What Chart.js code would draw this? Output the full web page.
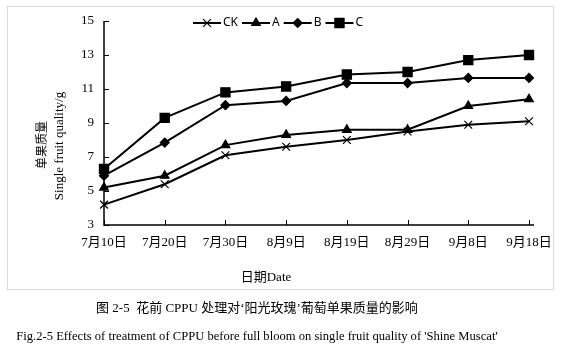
<!DOCTYPE html>
<html>
<head>
<meta charset="utf-8">
<script src="https://cdn.jsdelivr.net/npm/chart.js@4/dist/chart.umd.min.js"></script>
<style>
html,body{margin:0;padding:0;background:#fff;}
#wrap{position:relative;width:567px;height:356px;overflow:hidden;}
#c{position:absolute;left:0;top:0;}
.cap{position:absolute;left:0;width:514px;text-align:center;color:#000;white-space:nowrap;
 font-family:"Liberation Serif","Noto Sans CJK SC",serif;font-size:13px;line-height:16px;}
</style>
</head>
<body>
<div id="wrap">
<canvas id="c" width="567" height="356"></canvas>
<div class="cap" style="top:300px;">图 2-5&nbsp;&nbsp;花前 CPPU 处理对‘阳光玫瑰’葡萄单果质量的影响</div>
<div class="cap" style="top:328px;font-size:12.6px;">Fig.2-5 Effects of treatment of CPPU before full bloom on single fruit quality of 'Shine Muscat'</div>
</div>
<script>
const categories = ['7月10日','7月20日','7月30日','8月9日','8月19日','8月29日','9月8日','9月18日'];
const seriesNames = ['CK','A','B','C'];
const ckValues = [4.2, 5.4, 7.1, 7.6, 8.0, 8.5, 8.9, 9.1];
const aValues  = [5.2, 5.9, 7.7, 8.3, 8.6, 8.6, 10.0, 10.4];
const bValues  = [5.9, 7.85, 10.05, 10.3, 11.35, 11.35, 11.65, 11.65];
const cValues  = [6.3, 9.3, 10.8, 11.15, 11.85, 12.0, 12.7, 13.0];
const yTicks = [3, 5, 7, 9, 11, 13, 15];
const xTitleCn = '日期', xTitleEn = 'Date';
const yTitleCn = '单果质量', yTitleEn = 'Single fruit quality/g';

const serif = '"Liberation Serif","Noto Sans CJK SC",serif';
const sans = '"Noto Sans","Noto Sans CJK SC",sans-serif';

const styles = [
  {pointStyle:'crossRot', radius:5.5},
  {pointStyle:'triangle', radius:5},
  {pointStyle:'rectRot', radius:4.5},
  {pointStyle:'rect', radius:6.5}
];
const allValues = [ckValues, aValues, bValues, cValues];

const datasets = allValues.map((vals, i) => ({
  label: seriesNames[i],
  data: vals,
  borderColor: '#000',
  backgroundColor: '#000',
  borderWidth: 2,
  pointStyle: styles[i].pointStyle,
  pointRadius: styles[i].radius,
  pointBorderWidth: 1.2,
  pointBackgroundColor: '#000',
  pointBorderColor: '#000',
  tension: 0,
  fill: false
}));

const decor = {
  id: 'decor',
  beforeDraw(chart) {
    const ctx = chart.ctx;
    ctx.save();
    ctx.strokeStyle = '#d9d9d9';
    ctx.lineWidth = 1;
    ctx.strokeRect(7.5, 6.5, 546, 283);
    ctx.restore();
  },
  afterDraw(chart) {
    const ctx = chart.ctx;
    const a = chart.chartArea;
    const xs = chart.scales.x, ys = chart.scales.y;
    ctx.save();
    ctx.strokeStyle = '#000';
    ctx.lineWidth = 1.5;
    ctx.beginPath();
    ctx.moveTo(a.left, a.top);
    ctx.lineTo(a.left, a.bottom);
    ctx.lineTo(a.right + 5, a.bottom);
    ctx.stroke();
    ctx.lineWidth = 1;
    ctx.beginPath();
    yTicks.forEach(v => {
      const y = Math.round(ys.getPixelForValue(v)) + 0.5;
      ctx.moveTo(a.left, y); ctx.lineTo(a.left + 5, y);
    });
    categories.forEach((c, i) => {
      const x = Math.round(xs.getPixelForValue(i)) + 0.5;
      ctx.moveTo(x, a.bottom); ctx.lineTo(x, a.bottom - 5);
    });
    ctx.stroke();

    // legend
    let x = 193; const ly = 23;
    ctx.font = '12px ' + sans;
    ctx.textBaseline = 'middle';
    chart.data.datasets.forEach((ds, i) => {
      ctx.strokeStyle = '#000'; ctx.lineWidth = 2;
      ctx.beginPath(); ctx.moveTo(x, ly); ctx.lineTo(x + 28, ly); ctx.stroke();
      ctx.lineWidth = 1.2; ctx.fillStyle = '#000';
      Chart.helpers.drawPoint(ctx, {pointStyle: ds.pointStyle, radius: ds.pointRadius, borderWidth: 1.2, rotation: 0}, x + 14, ly);
      ctx.fillStyle = '#000';
      ctx.textAlign = 'left';
      ctx.fillText(ds.label, x + 30, ly);
      x += 30 + ctx.measureText(ds.label).width + 4;
    });

    // x title
    ctx.textBaseline = 'middle';
    ctx.font = '13px ' + sans;
    const w1 = ctx.measureText(xTitleCn).width;
    ctx.font = '13px ' + serif;
    const w2 = ctx.measureText(xTitleEn).width;
    let sx = 266 - (w1 + w2) / 2;
    ctx.textAlign = 'left';
    ctx.font = '13px ' + sans;
    ctx.fillText(xTitleCn, sx, 277);
    ctx.font = '13px ' + serif;
    ctx.fillText(xTitleEn, sx + w1, 278);

    // y titles
    ctx.save();
    ctx.translate(43, 145);
    ctx.rotate(-Math.PI / 2);
    ctx.textAlign = 'center';
    ctx.font = '12px ' + sans;
    ctx.fillText(yTitleCn, 0, 0);
    ctx.restore();
    ctx.save();
    ctx.translate(60, 146);
    ctx.rotate(-Math.PI / 2);
    ctx.textAlign = 'center';
    ctx.font = '13px ' + serif;
    ctx.fillText(yTitleEn, 0, 0);
    ctx.restore();
    ctx.restore();
  }
};

new Chart(document.getElementById('c'), {
  type: 'line',
  data: { labels: categories, datasets },
  options: {
    responsive: false,
    animation: false,
    devicePixelRatio: 1,
    layout: { padding: { left: 0, right: 38, top: 21, bottom: 0 } },
    plugins: { legend: { display: false }, tooltip: { enabled: false } },
    scales: {
      x: {
        type: 'category',
        offset: false,
        grid: { display: false, drawTicks: false },
        border: { display: false },
        ticks: { color: '#000', font: { family: serif, size: 13 }, padding: 10, maxRotation: 0, autoSkip: false },
        afterFit(s) { s.height = 131; }
      },
      y: {
        min: 3, max: 15,
        afterBuildTicks(s) { s.ticks = yTicks.map(v => ({ value: v })); },
        grid: { display: false, drawTicks: false },
        border: { display: false },
        ticks: { color: '#000', font: { family: serif, size: 13 }, padding: 10 },
        afterFit(s) { s.width = 104; }
      }
    }
  },
  plugins: [decor]
});
</script>
</body>
</html>
